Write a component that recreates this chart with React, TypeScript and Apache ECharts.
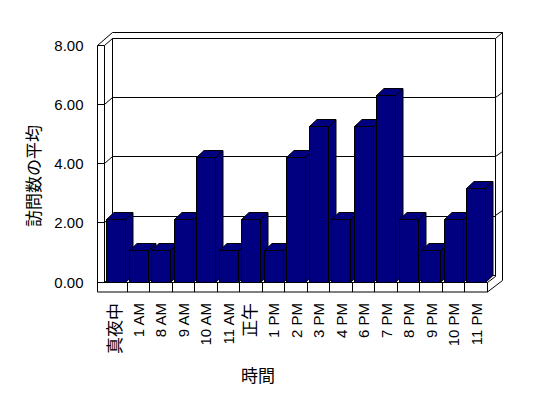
import React, { useEffect, useRef } from "react";
import * as echarts from "echarts";

// ---- data ----
const categories = ["真夜中", "1 AM", "8 AM", "9 AM", "10 AM", "11 AM", "正午", "1 PM", "2 PM", "3 PM", "4 PM", "6 PM", "7 PM", "8 PM", "9 PM", "10 PM", "11 PM"];
const visits = [2, 1, 1, 2, 4, 1, 2, 1, 4, 5, 2, 5, 6, 2, 1, 2, 3];
const yTickValues = [0, 2, 4, 6, 8];
const yTitle = "訪問数の平均";
const xTitle = "時間";

// ---- layout ----
const W = 548;
const H = 398;
const FRONT = { left: 104.5, right: 487.5, top: 45, bottom: 282 };
const BACK = { dx: 8, dy: 7 };
const WALL = 7;
const FLOOR_H = 9.5;
const RIGHT_WALL = { dx: 7, dy: 5 };
const BAR_DEPTH = { dx: 7.5, dy: 7 };
const BAR_AXIS_MAX = 7.645;
const FONT = "'Liberation Sans', Arial, 'Noto Sans CJK JP', sans-serif";
const NAVY = "#000080";

const lineStyle = { stroke: "#000", lineWidth: 1, fill: "none" };
const crisp = (v: number) => Math.round(v - 0.5) + 0.5;

export default function App() {
  const ref = useRef<HTMLDivElement>(null);
  useEffect(() => {
    if (!ref.current) return;
    const chart = echarts.init(ref.current, null, { renderer: "svg" });
    const barStyle = { fill: NAVY, stroke: "#000", lineWidth: 1 };
    const option: any = {
      animation: false,
      backgroundColor: "#fff",
      grid: [
        { left: FRONT.left, right: W - FRONT.right, top: FRONT.top, bottom: H - FRONT.bottom, containLabel: false },
        {
          left: FRONT.left + BACK.dx,
          right: W - FRONT.right - BACK.dx,
          top: FRONT.top - BACK.dy,
          bottom: H - FRONT.bottom + BACK.dy,
          containLabel: false,
        },
      ],
      xAxis: [
        {
          type: "category",
          gridIndex: 0,
          data: categories.map((c) =>
            /[^\x00-\x7F]/.test(c) ? { value: c, textStyle: { fontSize: 17, color: "#000" } } : c
          ),
          name: xTitle,
          nameLocation: "middle",
          nameGap: 86,
          nameTextStyle: { fontSize: 17, color: "#000", fontFamily: FONT, padding: [0, 76, 0, 0] },
          axisLine: { show: false },
          axisTick: { show: false },
          splitLine: { show: false },
          axisLabel: {
            interval: 0,
            rotate: 90,
            margin: 21,
            fontSize: 15,
            color: "#000",
            fontFamily: FONT,
          },
        },
        { type: "category", gridIndex: 1, data: categories, show: false },
      ],
      yAxis: [
        {
          type: "value",
          gridIndex: 0,
          min: 0,
          max: 8,
          interval: 2,
          name: yTitle,
          nameLocation: "middle",
          nameRotate: 90,
          nameGap: 62,
          nameTextStyle: { fontSize: 17, color: "#000", fontFamily: FONT, padding: [0, 25, 0, 0] },
          axisLine: { show: false },
          axisTick: { show: false },
          splitLine: { show: false },
          axisLabel: {
            margin: 21,
            fontSize: 15,
            color: "#000",
            fontFamily: FONT,
            formatter: (v: number) => v.toFixed(2),
          },
        },
        {
          type: "value",
          gridIndex: 0,
          min: 0,
          max: BAR_AXIS_MAX,
          show: false,
          splitLine: { show: false },
        },
        {
          type: "value",
          gridIndex: 1,
          min: 0,
          max: 8,
          interval: 2,
          axisLine: { show: false },
          axisTick: { show: false },
          axisLabel: { show: false },
          splitLine: { show: true, lineStyle: { color: "#000", width: 1 } },
        },
      ],
      series: [
        {
          type: "custom",
          xAxisIndex: 0,
          yAxisIndex: 1,
          z: 5,
          encode: { x: 0, y: 1 },
          data: visits.map((v, i) => [i, v]),
          renderItem: (params: any, api: any) => {
            const i = api.value(0);
            const v = api.value(1);
            const base = api.coord([i, 0]);
            const top = api.coord([i, v]);
            const cw = api.size([1, 0])[0];
            const x0 = crisp(base[0] - cw / 2 + cw * 0.09);
            const x1 = crisp(x0 + cw * 0.83);
            const yT = crisp(top[1]);
            const yB = crisp(base[1]);
            const dx = BAR_DEPTH.dx;
            const dy = BAR_DEPTH.dy;
            return {
              type: "group",
              children: [
                {
                  type: "polygon",
                  shape: { points: [[x1, yT], [x1 + dx, yT - dy], [x1 + dx, yB - dy], [x1, yB]] },
                  style: barStyle,
                },
                {
                  type: "polygon",
                  shape: { points: [[x0, yT], [x0 + dx, yT - dy], [x1 + dx, yT - dy], [x1, yT]] },
                  style: barStyle,
                },
                { type: "rect", shape: { x: x0, y: yT, width: x1 - x0, height: yB - yT }, style: barStyle },
              ],
            };
          },
        },
      ],
    };
    chart.setOption(option);

    // frame (walls & floor) derived from the axes' scales
    const fy = (v: number) => crisp(chart.convertToPixel({ yAxisIndex: 0 } as any, v) as number);
    const by = (v: number) => crisp(chart.convertToPixel({ yAxisIndex: 2 } as any, v) as number);
    const cx = (i: number) => chart.convertToPixel({ xAxisIndex: 0 } as any, i) as number;
    const L = crisp(FRONT.left);
    const R = crisp(FRONT.right);
    const OL = L - WALL;
    const BL = L + BACK.dx;
    const BR = R + BACK.dx;
    const topF = fy(8);
    const botF = fy(0);
    const topB = by(8);
    const botB = by(0);
    const floorB = botF + FLOOR_H;
    const outerTop = topB - 6;
    const ORt = BR + RIGHT_WALL.dx;
    const ln = (x1: number, y1: number, x2: number, y2: number) => ({
      type: "line",
      silent: true,
      z: 1,
      shape: { x1, y1, x2, y2 },
      style: lineStyle,
    });
    const els: any[] = [
      ln(OL, topF, OL, floorB),
      ln(L, topF, L, botF),
      ln(OL, topF, L, topF),
      ln(OL, topF, BL, outerTop),
      ln(L, topF, BL, topB),
      ln(BL, topB, BL, botB),
      ln(BL, outerTop, ORt, outerTop),
      ln(BR, topB, BR, botB + 1),
      ln(ORt, outerTop, ORt, botB + RIGHT_WALL.dy),
      ln(BR, topB, ORt, outerTop),
      // floor
      ln(OL, botF, R, botF),
      ln(OL, floorB, R, floorB),
      ln(R, botF, R, floorB),
      ln(R, botF, BR, botB + 1),
      ln(R, floorB, ORt, botB + RIGHT_WALL.dy),
      ln(L, botF, BL, botB),
    ];
    yTickValues.forEach((v) => {
      if (v === 0 || v === 8) return;
      els.push(ln(OL, fy(v), L, fy(v)));
      els.push(ln(L, fy(v), BL, by(v)));
      els.push(ln(BR, by(v), ORt, by(v) - RIGHT_WALL.dy));
    });
    for (let i = 0; i < categories.length - 1; i++) {
      const b = crisp((cx(i) + cx(i + 1)) / 2);
      els.push(ln(b, botF, b, floorB));
    }
    chart.setOption({ graphic: { elements: els } });

    return () => chart.dispose();
  }, []);
  return <div ref={ref} style={{ position: "fixed", left: 0, top: 0, width: W, height: H }} />;
}
